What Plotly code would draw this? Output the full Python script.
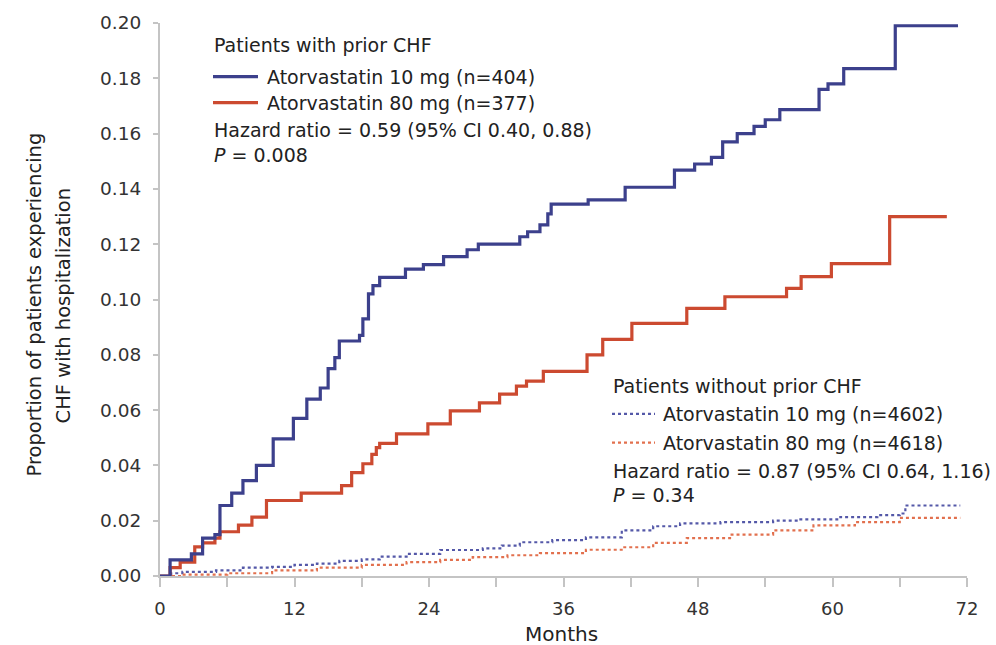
import plotly.graph_objects as go

# ---- data (months, cumulative proportion) ----
blue_prior_t = [0, 0.9, 2.8, 3.8, 4.9, 5.35, 6.4, 7.4, 8.6, 10.1, 11.9, 13.1, 14.3, 15.0, 15.6, 16.0, 17.8,
                18.1, 18.6, 19.0, 19.6, 21.9, 23.5, 25.3, 27.4, 28.4, 32.1, 32.8, 33.9, 34.6, 34.9, 38.2,
                41.5, 45.9, 47.7, 49.2, 50.2, 51.5, 53.0, 54.0, 55.3, 58.8, 59.6, 61.0, 65.6, 71.2]
blue_prior_v = [0, 0.0058, 0.008, 0.0137, 0.015, 0.0255, 0.030, 0.0345, 0.040, 0.0496, 0.057, 0.064, 0.068,
                0.075, 0.079, 0.085, 0.087, 0.093, 0.102, 0.105, 0.108, 0.111, 0.1126, 0.1155, 0.118, 0.120,
                0.1227, 0.1245, 0.127, 0.131, 0.1345, 0.136, 0.1406, 0.1468, 0.149, 0.1514, 0.157, 0.160,
                0.1626, 0.165, 0.1687, 0.176, 0.178, 0.1835, 0.199, 0.199]

red_prior_t = [0, 0.9, 1.8, 3.1, 3.8, 4.9, 5.35, 7.0, 8.2, 9.5, 12.6, 16.2, 17.1, 18.1, 18.9, 19.3, 19.6,
               21.1, 23.9, 25.9, 28.5, 30.3, 31.8, 32.7, 34.2, 38.1, 39.5, 42.1, 47.0, 50.4, 55.9, 57.2,
               59.9, 65.1, 70.2]
red_prior_v = [0, 0.003, 0.005, 0.0105, 0.012, 0.0137, 0.016, 0.0184, 0.0213, 0.0273, 0.030, 0.0327,
               0.0374, 0.0406, 0.044, 0.0464, 0.048, 0.0514, 0.055, 0.0597, 0.0626, 0.0658, 0.0687,
               0.0705, 0.074, 0.080, 0.0856, 0.0914, 0.0968, 0.101, 0.104, 0.1083, 0.113, 0.130, 0.130]

blue_noprior_t = [0, 1.0, 2.0, 5.0, 7.4, 10.0, 12.0, 14.0, 16.0, 18.0, 19.6, 22.0, 25.0, 28.8, 30.5, 32.1,
                  35.0, 38.0, 41.2, 44.0, 46.4, 50.0, 54.7, 57.0, 60.7, 64.0, 66.0, 66.5, 71.4]
blue_noprior_v = [0, 0.001, 0.0015, 0.002, 0.003, 0.0033, 0.004, 0.0045, 0.0055, 0.006, 0.007, 0.008,
                  0.0094, 0.010, 0.011, 0.0122, 0.013, 0.014, 0.0165, 0.018, 0.019, 0.0195, 0.020, 0.0205,
                  0.0213, 0.022, 0.0226, 0.0255, 0.0255]

red_noprior_t = [0, 2.0, 6.0, 10.0, 14.0, 18.0, 22.0, 25.0, 27.9, 31.0, 33.9, 38.0, 41.3, 44.0, 47.0, 51.0,
                 54.7, 58.3, 62.0, 66.0, 71.4]
red_noprior_v = [0, 0.0005, 0.001, 0.002, 0.003, 0.004, 0.005, 0.0058, 0.0068, 0.0075, 0.0083, 0.0095,
                 0.0104, 0.012, 0.0137, 0.015, 0.0165, 0.0183, 0.0195, 0.021, 0.021]

x_ticks = [0, 12, 24, 36, 48, 60, 72]
y_ticks = [0.00, 0.02, 0.04, 0.06, 0.08, 0.10, 0.12, 0.14, 0.16, 0.18, 0.20]

BLUE = "#3c408c"
RED = "#cc4a30"
BLUE_DOT = "#5458a8"
RED_DOT = "#e2704e"
FONT = "DejaVu Sans"
TXT = "#222222"

fig = go.Figure()
fig.add_trace(go.Scatter(x=blue_noprior_t, y=blue_noprior_v, mode="lines", line_shape="hv",
                         line=dict(color=BLUE_DOT, width=2.2, dash="dot"), showlegend=False))
fig.add_trace(go.Scatter(x=red_noprior_t, y=red_noprior_v, mode="lines", line_shape="hv",
                         line=dict(color=RED_DOT, width=2.2, dash="dot"), showlegend=False))
fig.add_trace(go.Scatter(x=red_prior_t, y=red_prior_v, mode="lines", line_shape="hv",
                         line=dict(color=RED, width=3.2), showlegend=False))
fig.add_trace(go.Scatter(x=blue_prior_t, y=blue_prior_v, mode="lines", line_shape="hv",
                         line=dict(color=BLUE, width=3.2), showlegend=False))

L, R, T, B = 160, 29, 20, 69
W, H = 996, 645
pw, ph = W - L - R, H - T - B


def px(xpix):
    return (xpix - L) / pw


def py(ypix):
    return (H - B - ypix) / ph


annotations = []
shapes = []


def text(x, y, s, size=19, anchor="left", angle=0):
    annotations.append(dict(x=px(x), y=py(y), xref="paper", yref="paper", text=s, showarrow=False,
                            xanchor=anchor, yanchor="middle", textangle=angle,
                            font=dict(family=FONT, size=size, color=TXT)))


def sample(x0, x1, y, color, dash, width):
    shapes.append(dict(type="line", xref="paper", yref="paper", x0=px(x0), x1=px(x1), y0=py(y), y1=py(y),
                       line=dict(color=color, width=width, dash=dash)))


# top legend block
text(212, 42, "Patients with prior CHF")
sample(213, 258, 74, BLUE, "solid", 3.2)
text(265, 74, "Atorvastatin 10 mg (n=404)")
sample(213, 258, 100, RED, "solid", 3.2)
text(265, 100, "Atorvastatin 80 mg (n=377)")
text(212, 128, "Hazard ratio = 0.59 (95% CI 0.40, 0.88)")
text(212, 153, "<i>P</i> = 0.008")

# bottom legend block
text(611, 385, "Patients without prior CHF")
sample(612, 655, 413, BLUE_DOT, "dot", 2.2)
text(661, 413, "Atorvastatin 10 mg (n=4602)")
sample(612, 655, 442, RED_DOT, "dot", 2.2)
text(661, 442, "Atorvastatin 80 mg (n=4618)")
text(611, 470, "Hazard ratio = 0.87 (95% CI 0.64, 1.16)")
text(611, 495, "<i>P</i> = 0.34")

# axis titles
text(34, 303, "Proportion of patients experiencing", size=19.5, anchor="center", angle=-90)
text(63, 305, "CHF with hospitalization", size=19.5, anchor="center", angle=-90)
text(561, 634, "Months", size=20, anchor="center")

AX = "#c4c4c4"
fig.update_layout(
    width=W, height=H,
    margin=dict(l=L, r=R, t=T, b=B, pad=0),
    plot_bgcolor="white", paper_bgcolor="white",
    annotations=annotations, shapes=shapes,
    xaxis=dict(range=[0, 72], tickvals=x_ticks, ticktext=[str(v) for v in x_ticks],
               showgrid=False, zeroline=False, showline=True, linecolor=AX, linewidth=2,
               ticks="outside", ticklen=9, tickwidth=2, tickcolor=AX, ticklabelstandoff=6,
               minor=dict(dtick=6, tick0=0, ticks="outside", ticklen=9, tickwidth=2, tickcolor=AX),
               tickfont=dict(family=FONT, size=18, color="#333333")),
    yaxis=dict(range=[0, 0.2], tickvals=y_ticks, ticktext=[f"{v:.2f}" for v in y_ticks],
               showgrid=False, zeroline=False, showline=True, linecolor=AX, linewidth=2,
               ticks="outside", ticklen=5, tickwidth=2, tickcolor=AX, ticklabelstandoff=8,
               tickfont=dict(family=FONT, size=18.5, color="#333333")),
)

fig.write_html("out.html")
